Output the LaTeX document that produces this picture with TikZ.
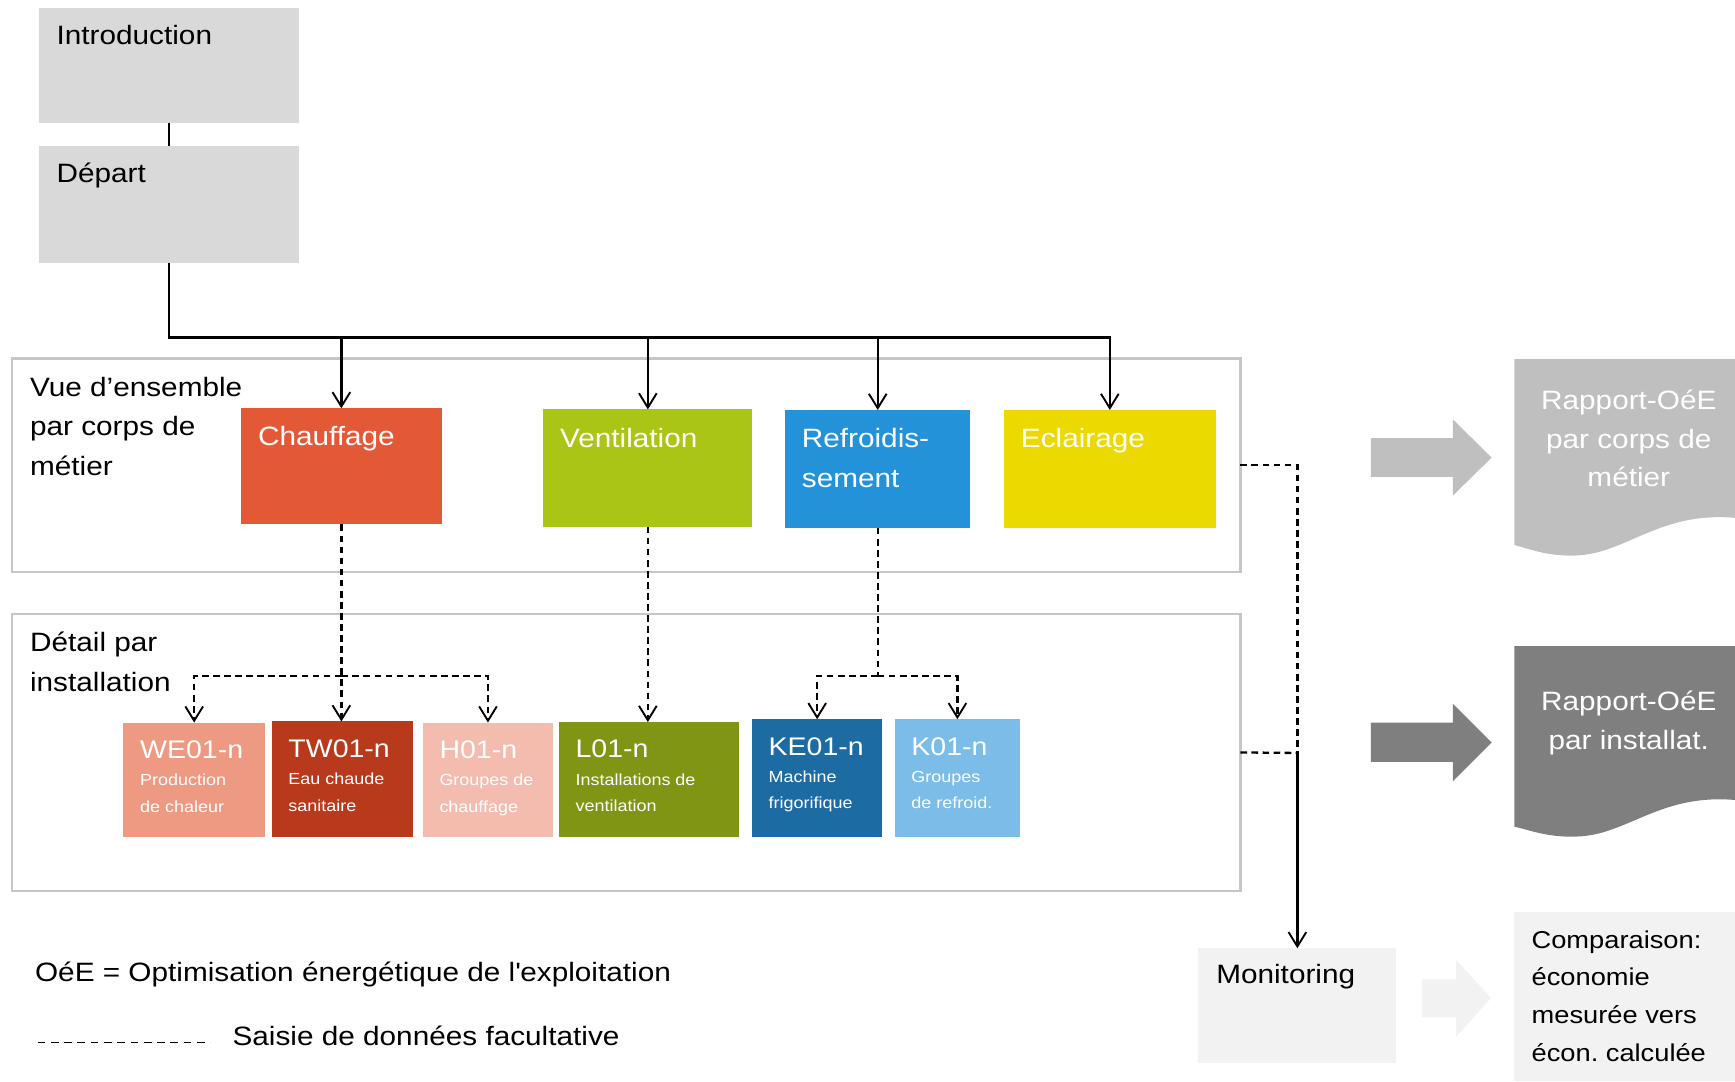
\documentclass[tikz,border=0pt]{standalone}
\usepackage{fontspec}
\setmainfont{Liberation Sans}[FakeStretch=1.12]
\usetikzlibrary{arrows.meta}

\definecolor{boxgray}{HTML}{D9D9D9}
\definecolor{framegray}{HTML}{C6C6C6}
\definecolor{lightgray}{HTML}{F2F2F2}
\definecolor{repone}{HTML}{BFBFBF}
\definecolor{reptwo}{HTML}{7F7F7F}
\definecolor{chauf}{HTML}{E35936}
\definecolor{vent}{HTML}{AAC516}
\definecolor{refr}{HTML}{2392D8}
\definecolor{eclair}{HTML}{EBD900}
\definecolor{we}{HTML}{EE9A82}
\definecolor{tw}{HTML}{B8391B}
\definecolor{hh}{HTML}{F4BCAE}
\definecolor{ll}{HTML}{7F9513}
\definecolor{ke}{HTML}{1C6CA3}
\definecolor{kk}{HTML}{7BBDE8}

\tikzset{
  blk/.style={anchor=north west, inner sep=0pt, outer sep=0pt},
  frame/.style={draw=framegray, line width=2pt},
  lbl/.style={anchor=base west, inner sep=0pt, align=left, font=\fontsize{24}{36}\selectfont},
  wlbl/.style={lbl, text=white},
  ttl/.style={anchor=base west, inner sep=0pt, text=white, font=\fontsize{23}{28}\selectfont},
  sub/.style={anchor=base west, inner sep=0pt, align=left, text=white, font=\fontsize{14.5}{24}\selectfont},
  flow/.style={line width=2.1pt, -{Straight Barb[length=13pt, width=16pt, line width=1.7pt]}},
  opt/.style={flow, dash pattern=on 6pt off 4pt},
  dsh/.style={line width=2.1pt, dash pattern=on 6pt off 4pt},
}

\begin{document}
\frenchspacing
\begin{tikzpicture}[x=1pt,y=-1pt]
  \useasboundingbox (0,0) rectangle (1568,977);
  % start boxes
  \node[blk, fill=boxgray, minimum width=235, minimum height=104] (intro) at (35,7) {};
  \node[lbl] (introt) at ([shift={(16,33)}]intro.north west) {Introduction};
  \node[blk, fill=boxgray, minimum width=235, minimum height=106] (depart) at (35,132) {};
  \node[lbl] (departt) at ([shift={(16,33)}]depart.north west) {Départ};

  % sections (base = last line)
  \node[blk, frame, minimum width=1110, minimum height=193] (sec1) at (11,324) {};
  \node[lbl] (sec1t) at ([shift={(16,106)}]sec1.north west) {Vue d’ensemble\\par corps de\\métier};
  \node[blk, frame, minimum width=1110, minimum height=250] (sec2) at (11,555) {};
  \node[lbl] (sec2t) at ([shift={(16,70)}]sec2.north west) {Détail par\\installation};

  % corps de metier
  \node[blk, fill=chauf, minimum width=181, minimum height=105] (chauffage) at (218,369) {};
  \node[wlbl] (chauffaget) at ([shift={(15,34)}]chauffage.north west) {Chauffage};
  \node[blk, fill=vent, minimum width=189, minimum height=106] (ventil) at (491,370) {};
  \node[wlbl] (ventilt) at ([shift={(15,34)}]ventil.north west) {Ventilation};
  \node[blk, fill=refr, minimum width=167.5, minimum height=106.5] (refroid) at (709.5,370.5) {};
  \node[wlbl] (refroidt) at ([shift={(15,70)}]refroid.north west) {Refroidis-\\sement};
  \node[blk, fill=eclair, minimum width=191, minimum height=107] (eclairage) at (907.5,370.5) {};
  \node[wlbl] (eclairaget) at ([shift={(15,34)}]eclairage.north west) {Eclairage};

  % installations
  \node[blk, fill=we, minimum width=128, minimum height=103] (we01) at (111.5,653) {};
  \node[ttl] (we01t) at ([shift={(15,32.5)}]we01.north west) {WE01-n};
  \node[sub] (we01s) at ([shift={(15,81)}]we01.north west) {Production\\de chaleur};
  \node[blk, fill=tw, minimum width=128, minimum height=104] (tw01) at (245.5,652) {};
  \node[ttl] (tw01t) at ([shift={(15,32.5)}]tw01.north west) {TW01-n};
  \node[sub] (tw01s) at ([shift={(15,81)}]tw01.north west) {Eau chaude\\sanitaire};
  \node[blk, fill=hh, minimum width=118, minimum height=103] (h01) at (382,653) {};
  \node[ttl] (h01t) at ([shift={(15,32.5)}]h01.north west) {H01-n};
  \node[sub] (h01s) at ([shift={(15,81)}]h01.north west) {Groupes de\\chauffage};
  \node[blk, fill=ll, minimum width=162.5, minimum height=104] (l01) at (505,652.5) {};
  \node[ttl] (l01t) at ([shift={(15,32.5)}]l01.north west) {L01-n};
  \node[sub] (l01s) at ([shift={(15,81)}]l01.north west) {Installations de\\ventilation};
  \node[blk, fill=ke, minimum width=118, minimum height=106.5] (ke01) at (679.5,650) {};
  \node[ttl] (ke01t) at ([shift={(15,32.5)}]ke01.north west) {KE01-n};
  \node[sub] (ke01s) at ([shift={(15,81)}]ke01.north west) {Machine\\frigorifique};
  \node[blk, fill=kk, minimum width=113.5, minimum height=106.5] (k01) at (808.5,650) {};
  \node[ttl] (k01t) at ([shift={(15,32.5)}]k01.north west) {K01-n};
  \node[sub] (k01s) at ([shift={(15,81)}]k01.north west) {Groupes\\de refroid.};

  % monitoring
  \node[blk, fill=lightgray, minimum width=179, minimum height=104] (monit) at (1083,857) {};
  \node[lbl] (monitt) at ([shift={(16,32)}]monit.north west) {Monitoring};
  \node[blk, fill=lightgray, minimum width=200, minimum height=153] (compar) at (1368,824) {};
  \node[lbl, font=\fontsize{22}{34}\selectfont] (compart) at ([shift={(16,135)}]compar.north west) {Comparaison:\\économie\\mesurée vers\\écon. calculée};

  % reports
  \fill[repone] (1239,396) -- (1313,396) -- (1313,379) -- (1348,413.5) -- (1313,448) -- (1313,431) -- (1239,431) -- cycle;
  \fill[repone] (1368.5,324.5) -- (1568,324.5) -- (1568,468) .. controls (1500,462) and (1470,500) .. (1425,502) .. controls (1400,503) and (1385,497) .. (1368.5,492.5) -- cycle;
  \node[anchor=base, inner sep=0pt, align=center, text=white, font=\fontsize{24}{35}\selectfont] (rep1) at (1472,440) {Rapport-OéE\\par corps de\\métier};
  \fill[reptwo] (1239,653) -- (1313,653) -- (1313,636) -- (1348,671) -- (1313,706) -- (1313,688.5) -- (1239,688.5) -- cycle;
  \fill[reptwo] (1368.5,584) -- (1568,584) -- (1568,723) .. controls (1500,717) and (1470,755) .. (1425,756) .. controls (1400,757) and (1385,751) .. (1368.5,747) -- cycle;
  \node[anchor=base, inner sep=0pt, align=center, text=white, font=\fontsize{24}{35}\selectfont] (rep2) at (1472,677.5) {Rapport-OéE\\par installat.};
  \fill[lightgray] (1285,885) -- (1316,885) -- (1316,867.5) -- (1347.5,902) -- (1316,937) -- (1316,919.5) -- (1285,919.5) -- cycle;

  % connectors
  \coordinate (hub) at (152.5,305);
  \draw[line width=2.1pt] (intro.south) -- (depart.north);
  \draw[flow] (depart.south) -- (hub) -| (eclairage.north);
  \draw[flow] (chauffage.north |- hub) -- (chauffage.north);
  \draw[flow] (ventil.north |- hub) -- (ventil.north);
  \draw[flow] (refroid.north |- hub) -- (refroid.north);
  \coordinate (cbar) at (0,611);
  \draw[opt] (chauffage.south) -- (chauffage.south |- tw01.north);
  \draw[opt] (chauffage.south |- cbar) -| (we01.north);
  \draw[opt] (chauffage.south |- cbar) -| (h01.north);
  \draw[opt] (ventil.south) -- (ventil.south |- l01.north);
  \draw[dsh] (refroid.south) -- (refroid.south |- cbar);
  \draw[opt] (refroid.south |- cbar) -| (ke01.north);
  \draw[opt] (refroid.south |- cbar) -| (k01.north);
  \coordinate (rjoin) at (1172.5,680.5);
  \draw[dsh] (sec1.east) -| (rjoin);
  \draw[dsh] (sec2.east) -- (rjoin);
  \draw[flow] (rjoin) -- (monit.north);

  % legend
  \node[lbl] (oee) at (31.5,887) {OéE = Optimisation énergétique de l\textquotesingle exploitation};
  \node[lbl] (saisie) at (210,945) {Saisie de données facultative};
  \coordinate (dashstart) at (34,942);
  \coordinate (dashend) at (190,942);
  \draw[line width=1.4pt, dash pattern=on 7pt off 5pt] (dashstart) -- (dashend);
\end{tikzpicture}
\end{document}
